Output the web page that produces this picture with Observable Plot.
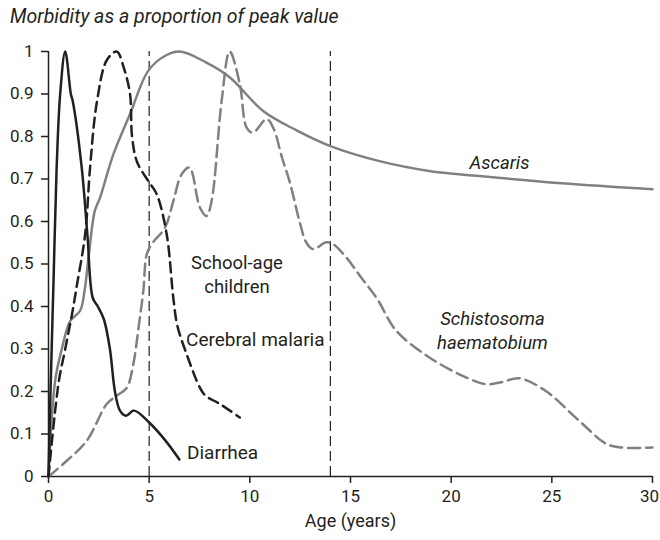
<!DOCTYPE html>
<html>
<head>
<meta charset="utf-8">
<script src="https://cdn.jsdelivr.net/npm/d3@7"></script>
<script src="https://cdn.jsdelivr.net/npm/@observablehq/plot@0.6"></script>
<style>
  body { margin: 0; background: #fff; font-family: Roboto, sans-serif; color: #231f20; }
  #title { font-style: italic; font-size: 19.5px; height: 30px; line-height: 34px; padding-left: 10px; }
</style>
</head>
<body>
<div id="title">Morbidity as a proportion of peak value</div>
<div id="chart"></div>
<script>
// Age (years) and morbidity (proportion of peak) per series
const diarrheaX = [0, 0.1, 0.25, 0.4, 0.58, 0.83, 1.11, 1.2, 1.65, 1.93, 2.2, 2.45, 2.75, 3.05, 3.3, 3.55, 3.85, 4.25, 5, 5.8, 6.5];
const diarrheaY = [0, 0.2, 0.46, 0.72, 0.9, 1.0, 0.9, 0.884, 0.727, 0.57, 0.42, 0.4, 0.37, 0.3, 0.2, 0.155, 0.143, 0.155, 0.127, 0.085, 0.04];

const malariaX = [0, 0.5, 0.83, 1.16, 1.41, 1.82, 2.07, 2.4, 2.9, 3.39, 3.75, 4.05, 4.15, 4.4, 4.96, 5.37, 5.87, 6.2, 6.4, 6.86, 7.52, 7.8, 8.5, 9.5];
const malariaY = [0, 0.22, 0.3, 0.38, 0.45, 0.57, 0.73, 0.88, 0.98, 1.0, 0.96, 0.9, 0.8, 0.74, 0.695, 0.665, 0.57, 0.42, 0.355, 0.288, 0.209, 0.19, 0.171, 0.139];

const ascarisX = [0, 0.33, 0.66, 1.08, 1.57, 1.8, 2.0, 2.3, 2.56, 3.22, 4.05, 4.96, 5.8, 6.53, 7.8, 9.01, 10.66, 12.3, 13.97, 16.44, 18.9, 21.4, 25.5, 30];
const ascarisY = [0, 0.225, 0.3, 0.366, 0.39, 0.44, 0.52, 0.625, 0.656, 0.758, 0.853, 0.955, 0.99, 1.0, 0.975, 0.939, 0.86, 0.815, 0.778, 0.742, 0.719, 0.707, 0.69, 0.676];

const schistoX = [0, 0.91, 1.9, 2.9, 3.39, 3.89, 4.21, 4.5, 4.71, 4.88, 5.13, 5.79, 6.2, 6.61, 7.0, 7.52, 7.85, 8.1, 8.6, 9.0, 9.5, 9.84, 10.16, 10.83, 11.16, 11.6, 12.0, 12.47, 12.81, 13.14, 13.8, 14.13, 14.8, 15.5, 16.3, 17.27, 18.92, 20.57, 21.73, 22.5, 23.39, 24.7, 26.36, 27.7, 28.5, 30];
const schistoY = [0, 0.037, 0.084, 0.171, 0.19, 0.209, 0.264, 0.36, 0.437, 0.523, 0.547, 0.586, 0.648, 0.711, 0.727, 0.633, 0.613, 0.648, 0.884, 1.0, 0.924, 0.821, 0.809, 0.841, 0.821, 0.75, 0.69, 0.6, 0.55, 0.535, 0.551, 0.547, 0.515, 0.47, 0.42, 0.343, 0.28, 0.237, 0.217, 0.222, 0.231, 0.201, 0.131, 0.077, 0.068, 0.068];

// School-age boundaries
const schoolAge = [5, 14];

const xTicks = [0, 5, 10, 15, 20, 25, 30];
const yTicks = [0, 0.1, 0.2, 0.3, 0.4, 0.5, 0.6, 0.7, 0.8, 0.9, 1];
const lastX = xTicks[xTicks.length - 1];

// Curve labels
const centerText = ["School-age\nchildren"];
const centerX = [9.36];
const centerY = [0.479];
const leftText = ["Cerebral malaria", "Diarrhea"];
const leftX = [6.83, 6.88];
const leftY = [0.322, 0.056];
const italicText = ["Ascaris", "Schistosoma\nhaematobium"];
const italicX = [22.4, 22.05];
const italicY = [0.742, 0.347];

const zip = (xs, ys) => xs.map((x, i) => ({x, y: ys[i]}));
const lab = (ts, xs, ys) => ts.map((t, i) => ({t, x: xs[i], y: ys[i]}));
const ink = "#231f20";
const gray = "#808080";

const chart = Plot.plot({
  width: 660,
  height: 510,
  marginLeft: 48,
  marginRight: 8,
  marginTop: 21,
  marginBottom: 64,
  style: {fontSize: "17px", fontFamily: "Roboto, sans-serif", color: ink, background: "#fff"},
  x: {domain: [0, 30]},
  y: {domain: [0, 1]},
  marks: [
    Plot.axisX({ticks: xTicks, tickSize: 7, tickPadding: 6, fontSize: 17, tickFormat: d => d === lastX ? "" : String(d), label: null, stroke: ink, strokeWidth: 1.5}),
    Plot.axisX({ticks: [lastX], tickSize: 0, tickPadding: 13, fontSize: 17, dx: -3, label: null, stroke: ink}),
    Plot.axisX({ticks: [], label: "Age (years)", labelAnchor: "center", labelArrow: "none", labelOffset: 50, fontSize: 18, stroke: ink}),
    Plot.axisY({ticks: yTicks, tickSize: 7, tickPadding: 8, fontSize: 17, tickFormat: d => String(+d.toFixed(1)), label: null, stroke: ink, strokeWidth: 1.5}),
    Plot.ruleX([0], {y1: 0, y2: 1, stroke: ink, strokeWidth: 1.5}),
    Plot.ruleY([0], {stroke: ink, strokeWidth: 1.5}),
    Plot.ruleX(schoolAge, {y1: 0, y2: 1, stroke: ink, strokeWidth: 1.2, strokeDasharray: "10,5"}),
    Plot.line(zip(ascarisX, ascarisY), {x: "x", y: "y", curve: "catmull-rom", stroke: gray, strokeWidth: 2.5}),
    Plot.line(zip(schistoX, schistoY), {x: "x", y: "y", curve: "catmull-rom", stroke: gray, strokeWidth: 2.5, strokeDasharray: "12,6"}),
    Plot.line(zip(malariaX, malariaY), {x: "x", y: "y", curve: "catmull-rom", stroke: ink, strokeWidth: 2.5, strokeDasharray: "10,6"}),
    Plot.line(zip(diarrheaX, diarrheaY), {x: "x", y: "y", curve: "catmull-rom", stroke: ink, strokeWidth: 2.5}),
    Plot.text(lab(centerText, centerX, centerY), {x: "x", y: "y", text: "t", fontSize: 18.5, fill: ink, lineHeight: 1.3, textAnchor: "middle"}),
    Plot.text(lab(leftText, leftX, leftY), {x: "x", y: "y", text: "t", fontSize: 19, fill: ink, textAnchor: "start"}),
    Plot.text(lab(italicText, italicX, italicY), {x: "x", y: "y", text: "t", fontSize: 18.5, fontStyle: "italic", fill: ink, lineHeight: 1.3, textAnchor: "middle"})
  ]
});
document.getElementById("chart").appendChild(chart);
</script>
</body>
</html>
